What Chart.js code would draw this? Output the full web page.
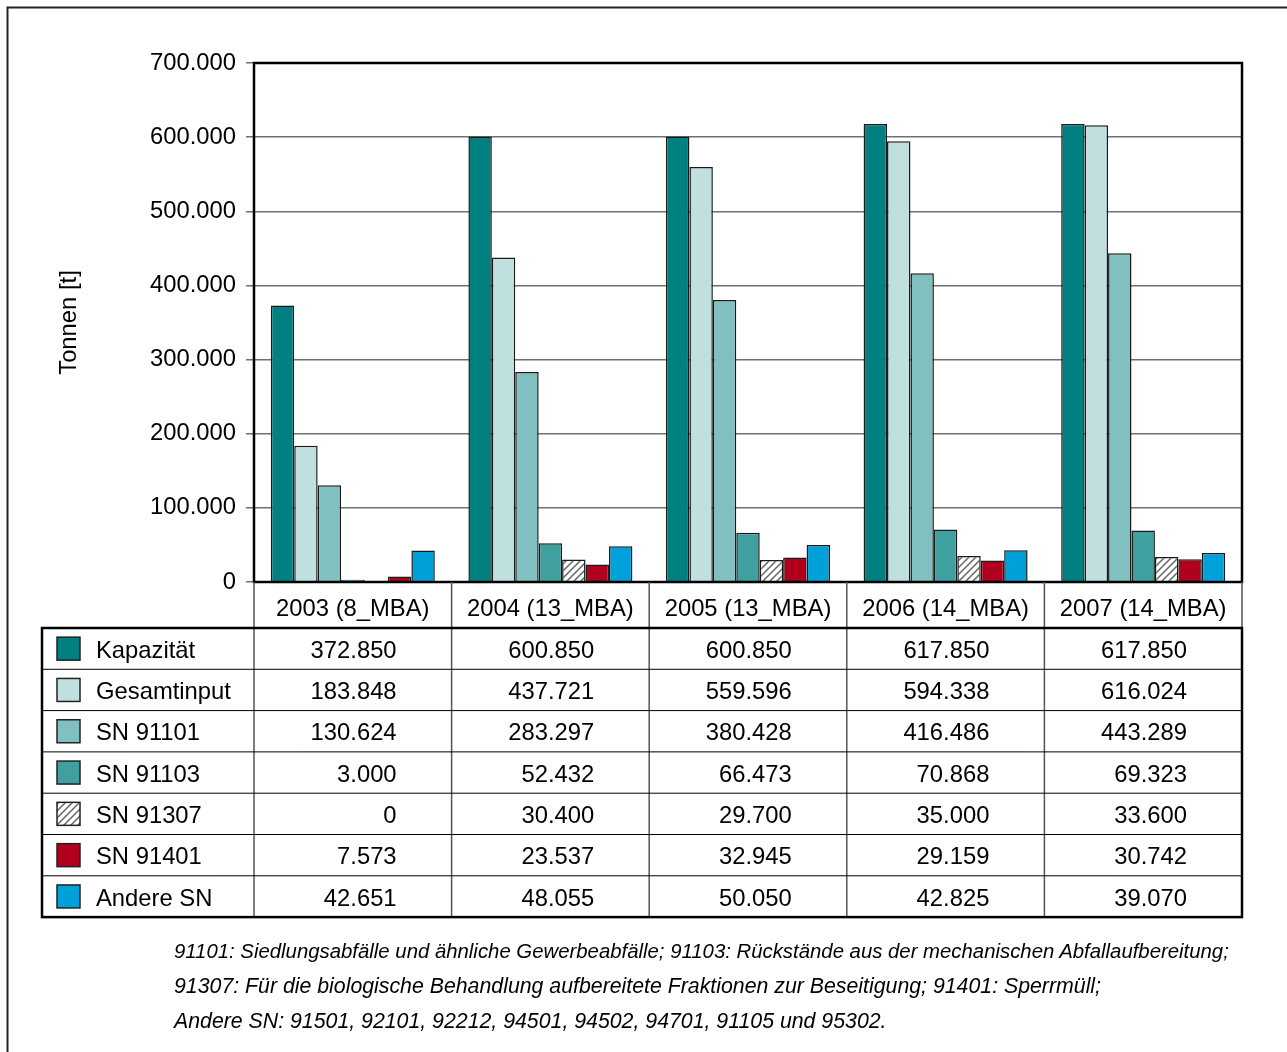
<!DOCTYPE html>
<html>
<head>
<meta charset="utf-8">
<script src="https://cdn.jsdelivr.net/npm/chart.js@4/dist/chart.umd.min.js"></script>
<style>
  html, body { margin: 0; padding: 0; background: #fff; }
  #wrap { position: relative; width: 1287px; height: 1052px; overflow: hidden; }
  #notes {
    position: absolute; left: 174px; top: 934px;
    font-family: "Liberation Sans", Arial, sans-serif; font-style: italic;
    font-size: 21.3px; line-height: 35px; color: #000; white-space: nowrap;
  }
  #notes .first { font-size: 20.35px; }
</style>
</head>
<body>
<div id="wrap">
  <canvas id="chart" width="1287" height="1052"></canvas>
  <div id="notes">
    <div class="first">91101: Siedlungsabfälle und ähnliche Gewerbeabfälle; 91103: Rückstände aus der mechanischen Abfallaufbereitung;</div>
    <div>91307: Für die biologische Behandlung aufbereitete Fraktionen zur Beseitigung; 91401: Sperrmüll;</div>
    <div>Andere SN: 91501, 92101, 92212, 94501, 94502, 94701, 91105 und 95302.</div>
  </div>
</div>
<script>
// Data
const categories = ["2003 (8_MBA)", "2004 (13_MBA)", "2005 (13_MBA)", "2006 (14_MBA)", "2007 (14_MBA)"];
const seriesNames = ["Kapazität", "Gesamtinput", "SN 91101", "SN 91103", "SN 91307", "SN 91401", "Andere SN"];
const kapazitaet = [372850, 600850, 600850, 617850, 617850];
const gesamtinput = [183848, 437721, 559596, 594338, 616024];
const sn91101 = [130624, 283297, 380428, 416486, 443289];
const sn91103 = [3000, 52432, 66473, 70868, 69323];
const sn91307 = [0, 30400, 29700, 35000, 33600];
const sn91401 = [7573, 23537, 32945, 29159, 30742];
const andereSN = [42651, 48055, 50050, 42825, 39070];
const seriesValues = [kapazitaet, gesamtinput, sn91101, sn91103, sn91307, sn91401, andereSN];
const yTicks = [0, 100000, 200000, 300000, 400000, 500000, 600000, 700000];

const FONT = '"Liberation Sans", Arial, sans-serif';
const canvas = document.getElementById("chart");
const ctx = canvas.getContext("2d");

// German thousands separator
function fmt(n) {
  return String(n).replace(/\B(?=(\d{3})+(?!\d))/g, ".");
}

// hatched fill for SN 91307
function makeHatch() {
  const c = document.createElement("canvas");
  c.width = 7; c.height = 7;
  const g = c.getContext("2d");
  g.fillStyle = "#fff";
  g.fillRect(0, 0, 7, 7);
  g.strokeStyle = "#666";
  g.lineWidth = 1.5;
  g.beginPath();
  g.moveTo(-1, 8); g.lineTo(8, -1);
  g.moveTo(-4, 4); g.lineTo(4, -4);
  g.moveTo(3, 11); g.lineTo(11, 3);
  g.stroke();
  return ctx.createPattern(c, "repeat");
}

const fills = ["#008080", "#c0e0e0", "#80c0c0", "#40a0a0", makeHatch(), "#b0001e", "#00a0da"];

const rowH = 41.3;
const headerH = 46;

// Table under the plot + frame lines
const tablePlugin = {
  id: "tablePlugin",
  beforeDraw(chart) {
    const c = chart.ctx;
    c.save();
    c.fillStyle = "#fff";
    c.fillRect(0, 0, chart.width, chart.height);
    c.strokeStyle = "#222";
    c.lineWidth = 2;
    c.beginPath();
    c.moveTo(7.5, chart.height);
    c.lineTo(7.5, 7.5);
    c.lineTo(chart.width, 7.5);
    c.stroke();
    c.restore();
  },
  afterDatasetsDraw(chart) {
    const c = chart.ctx;
    const a = chart.chartArea;
    c.save();
    c.strokeStyle = "#000";
    c.lineWidth = 2.5;
    c.strokeRect(a.left, a.top, a.right - a.left, a.bottom - a.top);
    c.restore();
  },
  afterDraw(chart) {
    const c = chart.ctx;
    const a = chart.chartArea;
    const x = chart.scales.x;
    const catW = (a.right - a.left) / categories.length;
    const tableLeft = 42;
    const top = a.bottom;
    const bodyTop = top + headerH;
    const bottom = bodyTop + rowH * seriesNames.length;

    c.save();
    c.font = "23.8px " + FONT;
    c.fillStyle = "#000";
    c.textBaseline = "middle";

    // header labels
    c.textAlign = "center";
    categories.forEach((cat, i) => {
      c.fillText(cat, x.getPixelForValue(i), top + headerH / 2 + 4);
    });

    // inner vertical lines
    c.strokeStyle = "#555";
    c.lineWidth = 1.5;
    for (let i = 0; i <= categories.length; i++) {
      const xx = a.left + i * catW;
      c.beginPath();
      c.moveTo(xx, top);
      c.lineTo(xx, bottom);
      c.stroke();
    }

    // row separators
    c.strokeStyle = "#000";
    c.lineWidth = 1;
    for (let r = 1; r < seriesNames.length; r++) {
      const yy = bodyTop + r * rowH;
      c.beginPath();
      c.moveTo(tableLeft, yy);
      c.lineTo(a.right, yy);
      c.stroke();
    }

    // thick outline of body
    c.lineWidth = 2.5;
    c.strokeRect(tableLeft, bodyTop, a.right - tableLeft, bottom - bodyTop);

    // rows
    seriesNames.forEach((name, r) => {
      const cy = bodyTop + r * rowH + rowH / 2;
      c.fillStyle = fills[r];
      c.fillRect(57, cy - 11.5, 23, 23);
      c.strokeStyle = "#222";
      c.lineWidth = 1.5;
      c.strokeRect(57, cy - 11.5, 23, 23);
      c.fillStyle = "#000";
      c.textAlign = "left";
      c.fillText(name, 96, cy + 2.5);
      c.textAlign = "right";
      seriesValues[r].forEach((v, i) => {
        c.fillText(fmt(v), a.left + (i + 1) * catW - 55, cy + 2.5);
      });
    });
    c.restore();
  }
};

new Chart(ctx, {
  type: "bar",
  data: {
    labels: categories,
    datasets: seriesNames.map((name, i) => ({
      label: name,
      data: seriesValues[i],
      backgroundColor: fills[i],
      borderColor: "#1a1a1a",
      borderWidth: 1.5,
      categoryPercentage: 0.83,
      barPercentage: 1
    }))
  },
  options: {
    responsive: false,
    animation: false,
    devicePixelRatio: 1,
    layout: { padding: { left: 7, top: 63, right: 45, bottom: 470 } },
    plugins: {
      legend: { display: false },
      tooltip: { enabled: false }
    },
    scales: {
      x: { display: false },
      y: {
        min: 0,
        max: 700000,
        afterBuildTicks: s => { s.ticks = yTicks.map(v => ({ value: v })); },
        afterFit: s => { s.width = 247; },
        ticks: {
          padding: 10,
          color: "#000",
          font: { family: FONT, size: 23.8 },
          callback: v => fmt(v)
        },
        grid: { color: "#707070", lineWidth: 1.5, tickLength: 8 },
        border: { display: false },
        title: {
          display: true,
          text: "Tonnen [t]",
          color: "#000",
          font: { family: FONT, size: 23.8 },
          padding: { top: 48, bottom: 0 }
        }
      }
    }
  },
  plugins: [tablePlugin]
});
</script>
</body>
</html>
